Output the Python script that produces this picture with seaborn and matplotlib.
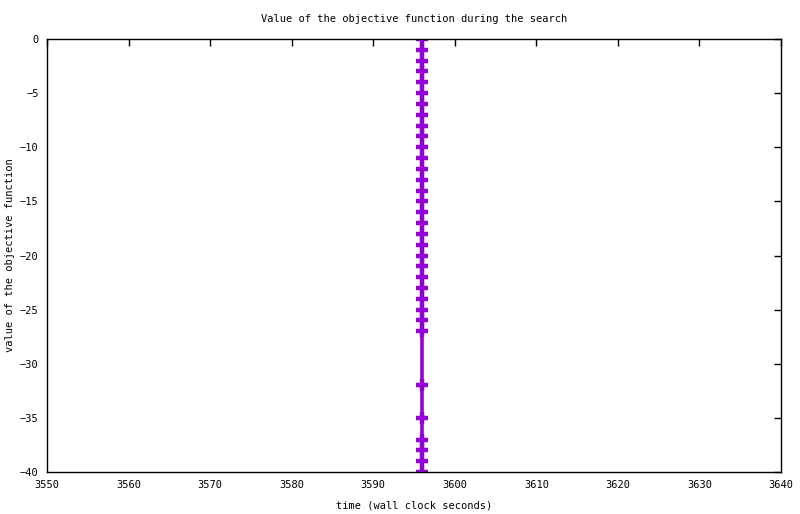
import matplotlib
matplotlib.use("Agg")
import matplotlib.pyplot as plt
import seaborn as sns
import pandas as pd

# objective value over wall clock time
times = [3596] * 34
values = [0, -1, -2, -3, -4, -5, -6, -7, -8, -9, -10, -11, -12, -13, -14,
          -15, -16, -17, -18, -19, -20, -21, -22, -23, -24, -25, -26, -27,
          -32, -35, -37, -38, -39, -40]
x_ticks = list(range(3550, 3641, 10))
y_ticks = list(range(-40, 1, 5))

sns.set_style("white")
plt.rcParams["font.family"] = ["DejaVu Sans Mono"]
plt.rcParams["text.color"] = "black"
plt.rcParams["axes.labelcolor"] = "black"

df = pd.DataFrame({"time": times, "value": values})

fig = plt.figure(figsize=(8, 5.14), dpi=100)
ax = fig.add_axes([47 / 800, 1 - 472 / 514, (781 - 47) / 800, (472 - 39) / 514])

sns.lineplot(data=df, x="time", y="value", ax=ax, color="#9400D3",
             linewidth=2.6, marker="+", markersize=9, markeredgewidth=3.2,
             markeredgecolor="#9400D3", sort=False, estimator=None)

ax.set_xlim(3550, 3640)
ax.set_ylim(-40, 0)
ax.set_xticks(x_ticks)
ax.set_yticks(y_ticks)
ax.tick_params(direction="in", length=5, width=1, top=True, right=True,
               labelsize=7.5, colors="black", pad=6)
for s in ax.spines.values():
    s.set_color("black")
    s.set_linewidth(1)
ax.set_title("Value of the objective function during the search",
             fontsize=7.5, pad=12, color="black")
ax.set_xlabel("time (wall clock seconds)", fontsize=7.5)
ax.set_ylabel("value of the objective function", fontsize=7.5)
ax.xaxis.set_label_coords(0.5, -(505 - 472) / 433, transform=ax.transAxes)
ax.yaxis.set_label_coords(-(47 - 10) / 734, 0.5)
ax.xaxis.label.set_verticalalignment("center")
ax.yaxis.label.set_verticalalignment("center")

fig.savefig("out.png", dpi=100)
